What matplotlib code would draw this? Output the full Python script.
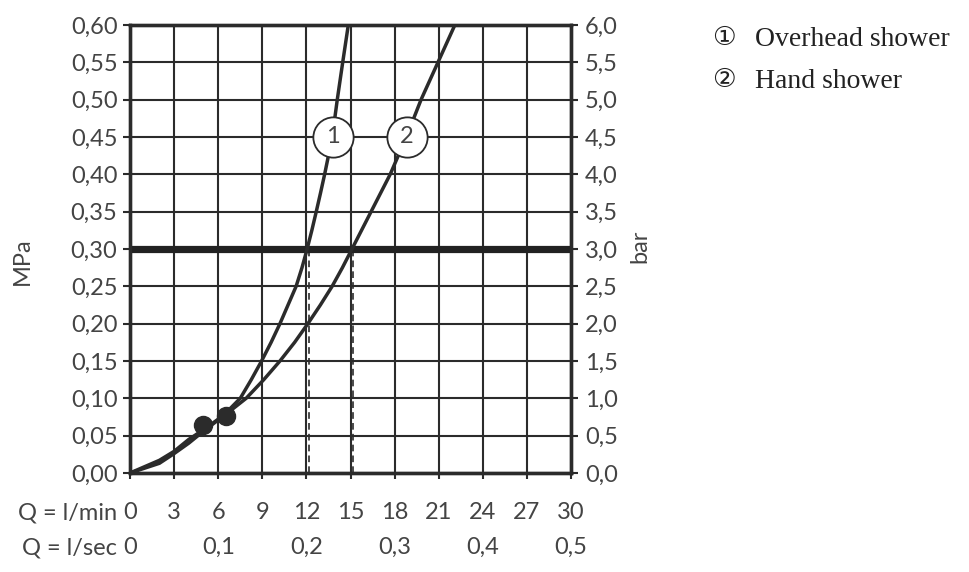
import matplotlib
matplotlib.use("Agg")
import matplotlib.pyplot as plt

# ---------------- data ----------------
q_lmin_ticks = [0, 3, 6, 9, 12, 15, 18, 21, 24, 27, 30]
q_lmin_labels = ["0", "3", "6", "9", "12", "15", "18", "21", "24", "27", "30"]
q_lsec_ticks = [0, 0.1, 0.2, 0.3, 0.4, 0.5]
q_lsec_labels = ["0", "0,1", "0,2", "0,3", "0,4", "0,5"]
mpa_ticks = [0.00, 0.05, 0.10, 0.15, 0.20, 0.25, 0.30, 0.35, 0.40, 0.45, 0.50, 0.55, 0.60]
mpa_labels = ["0,00", "0,05", "0,10", "0,15", "0,20", "0,25", "0,30",
              "0,35", "0,40", "0,45", "0,50", "0,55", "0,60"]
bar_ticks = [0.0, 0.5, 1.0, 1.5, 2.0, 2.5, 3.0, 3.5, 4.0, 4.5, 5.0, 5.5, 6.0]
bar_labels = ["0,0", "0,5", "1,0", "1,5", "2,0", "2,5", "3,0",
              "3,5", "4,0", "4,5", "5,0", "5,5", "6,0"]

# curve 1: overhead shower (flow l/min, pressure MPa)
overhead_q = [0, 2, 3, 4, 5, 5.8, 6.5, 7.5, 8.25, 8.95, 9.6, 10.2, 10.75, 11.3, 11.7,
              12.05, 12.37, 12.67, 12.96, 13.24, 13.5, 13.73, 13.93, 14.1, 14.47, 14.85]
overhead_p = [0, 0.013, 0.026, 0.040, 0.056, 0.068, 0.080, 0.10, 0.125, 0.15, 0.175, 0.20,
              0.225, 0.25, 0.275, 0.30, 0.325, 0.35, 0.375, 0.40, 0.425, 0.45, 0.475, 0.50,
              0.55, 0.60]
# curve 2: hand shower
hand_q = [0, 2, 3, 4, 5, 6, 7, 7.9, 9.1, 10.2, 11.2, 12.1, 12.95, 13.75, 14.45, 15.1,
          16.4, 17.7, 18.8, 19.8, 20.95, 22.1]
hand_p = [0, 0.017, 0.029, 0.045, 0.058, 0.072, 0.086, 0.10, 0.125, 0.15, 0.175, 0.20,
          0.225, 0.25, 0.275, 0.30, 0.35, 0.40, 0.45, 0.50, 0.55, 0.60]
# minimum-pressure dots
dot_q = [4.95, 6.5]
dot_p = [0.064, 0.076]
# nominal pressure and corresponding flows
nominal_p = 0.30
nominal_q = [12.2, 15.15]
# curve label circles
label_q = [13.79, 18.82]
label_p = [0.45, 0.45]
label_txt = ["1", "2"]
legend_items = ["Overhead shower", "Hand shower"]
legend_marks = ["\u2460", "\u2461"]

# ---------------- style ----------------
INK = "#2b2b2b"
TXT = "#444444"
FONT = ["Lato", "DejaVu Sans"]
FW = "normal"
FS = 17

fig = plt.figure(figsize=(9.7, 5.72), dpi=100)
W, H = 970, 572
ax = fig.add_axes([130 / W, 99 / H, 441 / W, 448 / H])

ax.set_xlim(0, 30)
ax.set_ylim(0, 0.60)
ax.set_xticks(q_lmin_ticks)
ax.set_xticklabels(q_lmin_labels, family=FONT, fontsize=FS, color=TXT, fontweight=FW)
ax.set_yticks(mpa_ticks)
ax.set_yticklabels(mpa_labels, family=FONT, fontsize=FS, color=TXT, fontweight=FW)
ax.tick_params(axis="x", direction="out", length=4, width=1.5, color=INK, pad=17)
ax.tick_params(axis="y", direction="out", length=5, width=1.5, color=INK, pad=4)
ax.grid(True, color=INK, lw=1.5, zorder=1)
ax.set_axisbelow(True)
for s in ax.spines.values():
    s.set_linewidth(2.4)
    s.set_color(INK)

ax2 = ax.twinx()
ax2.set_ylim(0, 6)
ax2.set_yticks(bar_ticks)
ax2.set_yticklabels(bar_labels, family=FONT, fontsize=FS, color=TXT, fontweight=FW)
ax2.tick_params(axis="y", direction="out", length=5, width=1.5, color=INK, pad=5)
for s in ax2.spines.values():
    s.set_linewidth(2.4)
    s.set_color(INK)

# second x row in l/sec
sec = ax.secondary_xaxis("bottom", functions=(lambda x: x / 60.0, lambda x: x * 60.0))
sec.set_xticks(q_lsec_ticks)
sec.set_xticklabels(q_lsec_labels, family=FONT, fontsize=FS, color=TXT, fontweight=FW)
sec.tick_params(axis="x", length=0, pad=46)
sec.spines["bottom"].set_visible(False)

# nominal pressure line
ax.axhline(nominal_p, color="#222222", lw=5.2, zorder=3)
ax.vlines(nominal_q, 0, nominal_p, colors=INK, lw=1.2, linestyles=(0, (4, 2.5)), zorder=2)

# curves
ax.plot(overhead_q, overhead_p, color=INK, lw=2.5, zorder=4, solid_joinstyle="round")
ax.plot(hand_q, hand_p, color=INK, lw=2.5, zorder=4, solid_joinstyle="round")
ax.plot(dot_q, dot_p, "o", color=INK, ms=13, zorder=6)

# curve labels
ax.plot(label_q, label_p, "o", ms=29, mfc="white", mec=INK, mew=1.3, zorder=7, clip_on=False)
for q, p, t in zip(label_q, label_p, label_txt):
    ax.text(q, p, t, ha="center", va="center", family=FONT, fontsize=FS, color=TXT,
            fontweight=FW, zorder=8)

# axis titles
fig.text(22 / W, 1 - 261 / H, "MPa", rotation=90, ha="center", va="center",
         family=FONT, fontsize=FS, color=TXT, fontweight=FW)
fig.text(640 / W, 1 - 246 / H, "bar", rotation=90, ha="center", va="center",
         family=FONT, fontsize=FS, color=TXT, fontweight=FW)
fig.text(117 / W, 1 - 519.5 / H, "Q = l/min", ha="right", va="baseline",
         family=FONT, fontsize=FS, color=TXT, fontweight=FW)
fig.text(117 / W, 1 - 554.5 / H, "Q = l/sec", ha="right", va="baseline",
         family=FONT, fontsize=FS, color=TXT, fontweight=FW)

# legend
for i, (m, t) in enumerate(zip(legend_marks, legend_items)):
    yb = 1 - (46 + 42 * i) / H
    fig.text(712 / W, yb + 1 / H, m, ha="left", va="baseline", family=["DejaVu Sans"],
             fontsize=19, color="#222222")
    fig.text(755 / W, yb, t, ha="left", va="baseline", family=["Liberation Serif", "DejaVu Serif"],
             fontsize=20, color="#222222")

fig.savefig("out.png", dpi=100, facecolor="white")
